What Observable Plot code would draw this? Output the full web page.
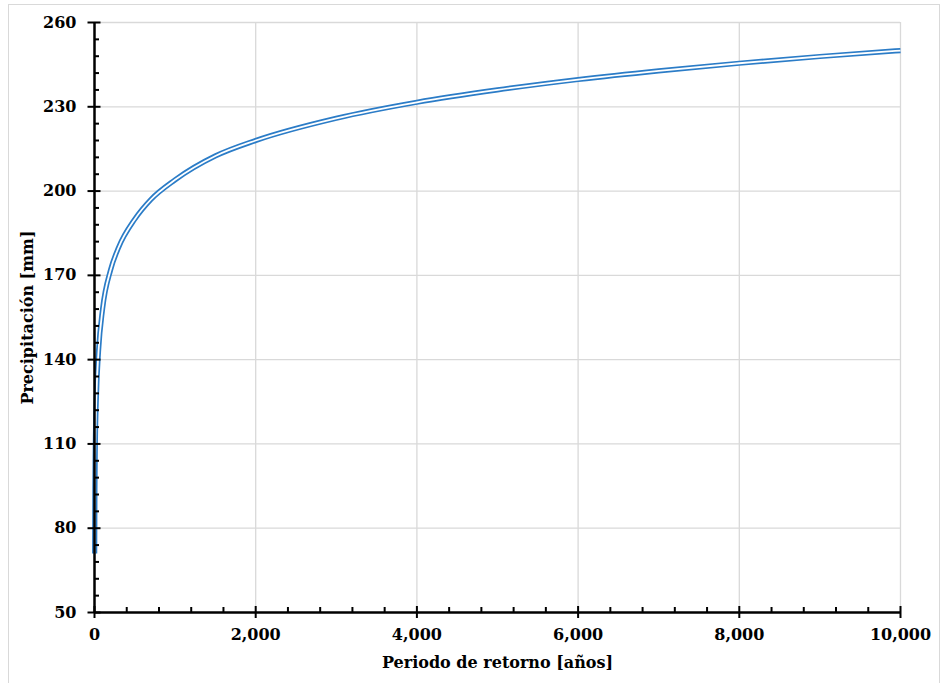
<!DOCTYPE html>
<html>
<head>
<meta charset="utf-8">
<script src="https://cdn.jsdelivr.net/npm/d3@7"></script>
<script src="https://cdn.jsdelivr.net/npm/@observablehq/plot@0.6"></script>
<style>
  html, body { margin: 0; padding: 0; background: #fff; }
  #wrap { position: relative; width: 942px; height: 683px; overflow: hidden; }
  #frame { position: absolute; left: 8px; top: 4px; width: 930px; height: 690px; border: 1px solid #d9d9d9; pointer-events: none; }
  #chart { position: absolute; left: 0; top: 0; }
</style>
</head>
<body>
<div id="wrap"><div id="frame"></div><div id="chart"></div></div>
<script>
// Return period [years] and precipitation [mm]
const periodos = [2, 5, 10, 25, 50, 100, 200, 300, 500, 700, 1000, 1500, 2000, 3000, 4000, 5000, 6000, 7000, 8000, 9000, 10000];
const precipitacion = [71, 94, 109, 128, 143, 158, 172, 180, 190, 197, 204, 212.5, 218, 225.9, 231.6, 236, 239.7, 242.8, 245.5, 247.9, 250];

const xTicks = [0, 2000, 4000, 6000, 8000, 10000];
const yTicks = [50, 80, 110, 140, 170, 200, 230, 260];
const xMinor = d3.range(0, 10001, 400).filter(v => v % 2000 !== 0);
const yMinor = d3.range(50, 261, 6).filter(v => (v - 50) % 30 !== 0);

const xLabel = "Periodo de retorno [años]";
const yLabel = "Precipitación [mm]";

const data = periodos.map((T, i) => ({T, P: precipitacion[i]}));
const blue = "#2b7cc7";

const chart = Plot.plot({
  width: 942,
  height: 683,
  marginLeft: 94,
  marginRight: 42,
  marginTop: 22,
  marginBottom: 71,
  x: {domain: [0, 10000]},
  y: {domain: [50, 260]},
  style: {fontFamily: "'DejaVu Serif', serif", fontWeight: "bold", fontSize: "16px", color: "#000", background: "transparent", overflow: "visible"},
  marks: [
    Plot.gridX(xTicks.slice(1), {stroke: "#d9d9d9", strokeOpacity: 1, strokeWidth: 1.3}),
    Plot.gridY(yTicks.slice(1), {stroke: "#d9d9d9", strokeOpacity: 1, strokeWidth: 1.3}),
    Plot.lineY(data, {x: "T", y: "P", curve: "monotone-x", stroke: blue, strokeWidth: 5.2, strokeLinecap: "butt"}),
    Plot.lineY(data, {x: "T", y: "P", curve: "monotone-x", stroke: "#fff", strokeWidth: 1.8, strokeLinecap: "butt"}),
    Plot.ruleX([0], {stroke: "#000", strokeWidth: 2.5}),
    Plot.ruleY([50], {stroke: "#000", strokeWidth: 2.5}),
    Plot.axisY(yMinor, {tickSize: 5, dx: 5, text: null, label: null, strokeWidth: 2}),
    Plot.axisY(yTicks, {tickSize: 13, dx: 6.5, text: null, label: null, strokeWidth: 2}),
    Plot.axisY(yTicks, {tickSize: 0, tickPadding: 18, label: null, fontSize: 16}),
    Plot.axisX(xMinor, {tickSize: 5, dy: -5, text: null, label: null, strokeWidth: 2}),
    Plot.axisX(xTicks, {tickSize: 12, dy: -6, text: null, label: null, strokeWidth: 2}),
    Plot.axisX(xTicks, {tickSize: 0, tickPadding: 16, label: null, tickFormat: d3.format(","), fontSize: 16}),
    Plot.text([xLabel], {frameAnchor: "bottom", dy: 55, fontSize: 16, fontWeight: "bold", text: d => d}),
    Plot.text([yLabel], {frameAnchor: "left", dx: -67, rotate: -90, textAnchor: "middle", fontSize: 16, fontWeight: "bold", text: d => d})
  ]
});
document.getElementById("chart").appendChild(chart);
</script>
</body>
</html>
